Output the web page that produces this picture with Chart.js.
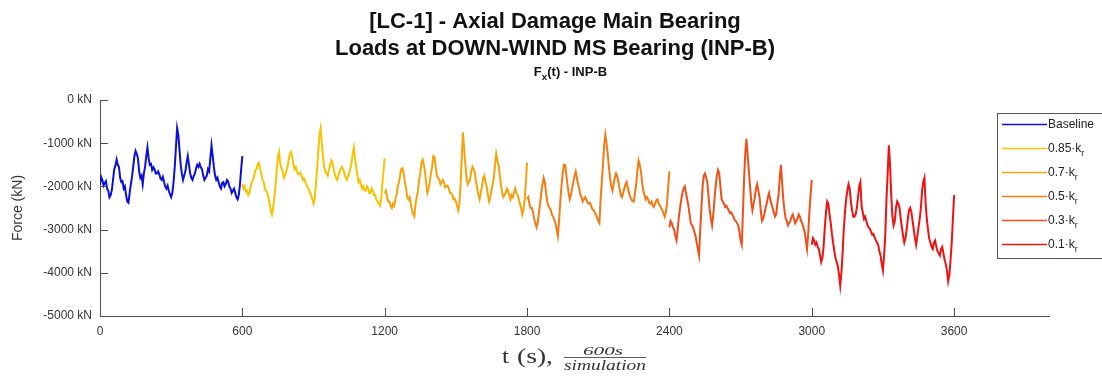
<!DOCTYPE html>
<html>
<head>
<meta charset="utf-8">
<script src="https://cdn.jsdelivr.net/npm/chart.js@4/dist/chart.umd.min.js"></script>
<style>
  html, body { margin: 0; padding: 0; background: #fff; }
  #wrap { width: 1102px; height: 378px; }
</style>
</head>
<body>
<div id="wrap"><canvas id="canva" width="1102" height="378"></canvas></div>
<script>
// six 600 s simulations, one after the other, sampled every 5 s (kN)
const seriesNames = ["Baseline", "0.85", "0.7", "0.5", "0.3", "0.1"];
const segmentLength = 600;
const sampleStep = 5;

const baseline = [
  -1960, -1780, -1850, -1980, -1920, -1880, -2050, -2100, -2250, -2200,
  -2080, -1850, -1600, -1520, -1380, -1500, -1550, -1800, -1900, -1880,
  -2050, -2000, -2200, -2350, -2380, -2150, -1950, -1780, -1550, -1300,
  -1180, -1250, -1350, -1650, -1800, -1750, -1950, -1700, -1550, -1300,
  -1100, -1350, -1500, -1480, -1620, -1560, -1600, -1700, -1700, -1650,
  -1720, -1820, -1850, -1780, -1900, -2000, -2050, -1980, -2100, -2180,
  -2250, -2150, -1900, -1550, -1100, -650, -800, -1150, -1500, -1700,
  -1850, -1750, -1650, -1450, -1300, -1500, -1700, -1800, -1850, -1760,
  -1700, -1580, -1500, -1550, -1480, -1560, -1600, -1750, -1850, -1800,
  -1750, -1600, -1650, -1350, -1050, -1300, -1550, -1750, -1850, -1800,
  -1900, -2000, -2050, -1920, -1900, -2000, -1950, -1850, -1880, -2000,
  -2050, -2150, -2100, -2050, -2150, -2250, -2300, -2200, -1950, -1600,
  -1300
];
const kr085 = [
  -1950, -2050, -2000, -2120, -2100, -2200, -2150, -2000, -1900, -1850,
  -1750, -1620, -1600, -1480, -1460, -1600, -1700, -1850, -1900, -2050,
  -2100, -2150, -2250, -2400, -2550, -2650, -2500, -2250, -1980, -1600,
  -1300, -1200, -1500, -1580, -1650, -1800, -1750, -1650, -1550, -1400,
  -1250, -1200, -1300, -1500, -1600, -1550, -1650, -1720, -1700, -1680,
  -1750, -1850, -1820, -1880, -1950, -2030, -2050, -2150, -2200, -2300,
  -2400, -2300, -1950, -1600, -1200, -800, -650, -1000, -1300, -1550,
  -1650, -1700, -1750, -1600, -1500, -1400, -1450, -1600, -1720, -1800,
  -1850, -1750, -1650, -1580, -1550, -1620, -1680, -1800, -1850, -1780,
  -1700, -1600, -1450, -1250, -1100, -1350, -1550, -1750, -1900, -1850,
  -1950, -2050, -2000, -2080, -2100, -2000, -2050, -2150, -2150, -2050,
  -2100, -2200, -2200, -2300, -2350, -2400, -2450, -2300, -1950, -1650,
  -1350
];
const kr07 = [
  -2150, -2100, -2250, -2350, -2350, -2450, -2500, -2400, -2450, -2300,
  -2200, -2000, -1900, -1750, -1600, -1580, -1700, -1900, -2050, -2250,
  -2300, -2250, -2400, -2550, -2650, -2700, -2400, -2250, -2100, -1850,
  -1700, -1450, -1380, -1500, -1650, -1950, -2150, -2050, -1900, -1700,
  -1550, -1300, -1320, -1550, -1750, -1800, -1850, -1950, -1900, -1850,
  -1920, -2020, -2000, -1980, -2050, -2150, -2150, -2200, -2300, -2280,
  -2350, -2450, -2550, -2400, -1950, -1300, -750, -1150, -1500, -1800,
  -1950, -1900, -1850, -1650, -1550, -1600, -1700, -1900, -2050, -2200,
  -2300, -2150, -2000, -1800, -1750, -1900, -2000, -2200, -2350, -2250,
  -2100, -1950, -1800, -1500, -1250, -1400, -1500, -1750, -1950, -2150,
  -2250, -2200, -2150, -2050, -2100, -2200, -2300, -2200, -2250, -2150,
  -2050, -2150, -2200, -2300, -2400, -2500, -2650, -2550, -2300, -1900,
  -1450
];
const kr05 = [
  -2300, -2250, -2400, -2500, -2500, -2600, -2750, -2850, -2950, -2850,
  -2600, -2400, -2150, -1950, -1800, -1900, -2150, -2350, -2450, -2500,
  -2550, -2650, -2700, -2780, -2850, -3000, -3150, -2800, -2350, -2000,
  -1700, -1500, -1500, -1700, -1950, -2150, -2300, -2200, -2050, -1900,
  -1750, -1650, -1800, -1950, -2050, -2200, -2250, -2350, -2300, -2250,
  -2300, -2380, -2400, -2380, -2450, -2520, -2550, -2600, -2650, -2720,
  -2800, -2850, -2300, -1900, -1500, -1050, -800, -1000, -1250, -1550,
  -1800, -2000, -2100, -1950, -1800, -1700, -1750, -1900, -2050, -2200,
  -2250, -2150, -2050, -1950, -1900, -2050, -2150, -2250, -2300, -2350,
  -2350, -2150, -1950, -1650, -1400, -1500, -1650, -1900, -2100, -2200,
  -2300, -2250, -2300, -2380, -2400, -2350, -2450, -2480, -2400, -2320,
  -2300, -2400, -2450, -2500, -2550, -2620, -2700, -2600, -2400, -2000,
  -1650
];
const kr03 = [
  -2950, -2800, -2850, -2950, -3000, -3150, -3250, -3000, -2700, -2500,
  -2300, -2150, -2050, -2000, -2150, -2300, -2450, -2650, -2850, -2900,
  -2950, -3050, -3150, -3300, -3450, -3600, -3000, -2500, -2000, -1750,
  -1700, -1800, -1900, -2250, -2550, -2750, -2900, -2650, -2300, -2000,
  -1750, -1620, -1700, -2000, -2300, -2350, -2400, -2480, -2450, -2500,
  -2550, -2620, -2600, -2650, -2700, -2780, -2800, -2850, -2900, -3050,
  -3250, -3350, -2600, -1800, -1200, -900, -1300, -1650, -2000, -2350,
  -2550, -2400, -2250, -2050, -1950, -2100, -2250, -2550, -2800, -2750,
  -2650, -2500, -2400, -2250, -2150, -2300, -2400, -2500, -2600, -2700,
  -2650, -2400, -2200, -1800, -1500, -1900, -2300, -2550, -2750, -2800,
  -2900, -2850, -2800, -2700, -2650, -2750, -2850, -2800, -2750, -2650,
  -2700, -2800, -2850, -2950, -3050, -3250, -3450, -3100, -2600, -2200,
  -1850
];
const kr01 = [
  -3350, -3200, -3250, -3350, -3300, -3400, -3450, -3600, -3750, -3650,
  -3400, -2950, -2600, -2350, -2400, -2650, -2850, -3100, -3300, -3500,
  -3650, -3750, -3850, -4050, -4300, -4000, -3550, -3000, -2600, -2300,
  -2100, -1950, -2050, -2350, -2550, -2700, -2700, -2650, -2500, -2250,
  -2000, -1900, -2450, -2600, -2750, -2700, -2800, -2900, -2950, -2980,
  -3050, -3120, -3100, -3180, -3250, -3300, -3350, -3500, -3600, -3800,
  -3950, -3600, -3100, -2300, -1700, -1050, -1500, -2200, -2700, -2900,
  -2800, -2500, -2350, -2400, -2500, -2750, -2950, -3150, -3300, -3200,
  -3000, -2750, -2550, -2500, -2600, -2800, -3000, -3200, -3350, -3150,
  -2950, -2750, -2500, -2100, -1900, -1800, -2400, -2750, -3000, -3200,
  -3300, -3400, -3450, -3300, -3250, -3400, -3500, -3550, -3600, -3450,
  -3400, -3550, -3700, -3800, -3950, -4200, -4050, -3700, -3300, -2750,
  -2200
];
const xTicks = [0, 600, 1200, 1800, 2400, 3000, 3600];
const yTicks = [0, -1000, -2000, -3000, -4000, -5000];

const seriesValues = [baseline, kr085, kr07, kr05, kr03, kr01];
const seriesColors = ["#0a0fdc", "#f8c300", "#f6a20a", "#f47b14", "#f0501a", "#ee1212"];

const datasets = seriesValues.map((vals, s) => ({
  label: seriesNames[s],
  data: vals.map((v, i) => ({ x: s * segmentLength + i * sampleStep, y: v })),
  borderColor: seriesColors[s],
  borderWidth: 2,
  pointRadius: 0,
  tension: 0,
  fill: false,
}));

const SANS = '"Liberation Sans", Arial, sans-serif';
const SERIF = '"Liberation Serif", "Times New Roman", serif';

// text with subscript pieces, drawn left-aligned from x
function subText(ctx, x, y, parts, size, weight) {
  let cx = x;
  parts.forEach(([txt, sub]) => {
    ctx.font = `${weight} ${sub ? size * 0.75 : size}px ${SANS}`;
    ctx.fillText(txt, cx, sub ? y + size * 0.3 : y);
    cx += ctx.measureText(txt).width;
  });
  return cx - x;
}
function subWidth(ctx, parts, size, weight) {
  let w = 0;
  parts.forEach(([txt, sub]) => {
    ctx.font = `${weight} ${sub ? size * 0.75 : size}px ${SANS}`;
    w += ctx.measureText(txt).width;
  });
  return w;
}
// latex-ish wide text: stretched to a given width, from left x
function wideText(ctx, txt, x, y, font, width) {
  ctx.save();
  ctx.font = font;
  ctx.textAlign = "left";
  const w = ctx.measureText(txt).width;
  ctx.translate(x, y);
  ctx.scale(width / w, 1);
  ctx.fillText(txt, 0, 0);
  ctx.restore();
}

const decor = {
  id: "decor",
  afterDraw(chart) {
    const ctx = chart.ctx;
    const area = chart.chartArea;
    const xs = chart.scales.x, ys = chart.scales.y;
    const midX = (xs.getPixelForValue(0) + xs.getPixelForValue(4000)) / 2;
    ctx.save();
    ctx.fillStyle = "#111";
    ctx.textAlign = "center";
    ctx.textBaseline = "alphabetic";
    ctx.font = `bold 22px ${SANS}`;
    ctx.fillText("[LC-1] - Axial Damage Main Bearing", 555, 28);
    ctx.fillText("Loads at DOWN-WIND MS Bearing (INP-B)", 555, 55);

    // subtitle F_x(t) - INP-B
    ctx.textAlign = "left";
    const sp = [["F", false], ["x", true], ["(t) - INP-B", false]];
    const sw = subWidth(ctx, sp, 13, "bold");
    subText(ctx, midX - 4 - sw / 2, 76, sp, 13, "bold");

    // inward tick marks
    ctx.strokeStyle = "#4d4d4d";
    ctx.lineWidth = 1;
    ctx.beginPath();
    xTicks.forEach(v => {
      const px = Math.round(xs.getPixelForValue(v)) + 0.5;
      ctx.moveTo(px, area.bottom);
      ctx.lineTo(px, area.bottom - 8);
    });
    yTicks.forEach(v => {
      const py = Math.round(ys.getPixelForValue(v)) + 0.5;
      ctx.moveTo(area.left, py);
      ctx.lineTo(area.left + 8, py);
    });
    ctx.stroke();

    // y axis title
    ctx.save();
    ctx.translate(22, (area.top + area.bottom) / 2);
    ctx.rotate(-Math.PI / 2);
    ctx.textAlign = "center";
    ctx.fillStyle = "#333";
    ctx.font = `14px ${SANS}`;
    ctx.fillText("Force (kN)", 0, 0);
    ctx.restore();

    // x axis title: t (s), 600s / simulation
    ctx.fillStyle = "#333";
    wideText(ctx, "t", 502, 363, `20px ${SERIF}`, 7);
    wideText(ctx, "(s),", 517, 363, `20px ${SERIF}`, 36);
    wideText(ctx, "600s", 583, 355, `italic 12px ${SERIF}`, 40);
    wideText(ctx, "simulation", 564, 370, `italic 14px ${SERIF}`, 82);
    ctx.beginPath();
    ctx.moveTo(564, 357.5);
    ctx.lineTo(646, 357.5);
    ctx.strokeStyle = "#333";
    ctx.lineWidth = 0.8;
    ctx.stroke();

    // legend box (runs off the right edge, as in the source figure)
    const lx = 997, ly = 113, lh = 145;
    ctx.fillStyle = "#fff";
    ctx.fillRect(lx, ly, 120, lh);
    ctx.strokeStyle = "#555";
    ctx.lineWidth = 1;
    ctx.strokeRect(lx + 0.5, ly + 0.5, 120, lh);
    seriesNames.forEach((name, i) => {
      const ry = 124 + i * 24;
      ctx.strokeStyle = seriesColors[i];
      ctx.lineWidth = 1.5;
      ctx.beginPath();
      ctx.moveTo(lx + 5, ry + 0.5);
      ctx.lineTo(lx + 50, ry + 0.5);
      ctx.stroke();
      ctx.fillStyle = "#222";
      const parts = i === 0 ? [[name, false]] : [[name + "\u00b7k", false], ["r", true]];
      subText(ctx, lx + 51, ry + 4, parts, 12, "normal");
    });
    ctx.restore();
  }
};

new Chart(document.getElementById("canva").getContext("2d"), {
  type: "line",
  data: { datasets },
  plugins: [decor],
  options: {
    responsive: false,
    animation: false,
    devicePixelRatio: 1,
    layout: { padding: { top: 100, right: 53, left: 0, bottom: 0 } },
    plugins: { legend: { display: false }, tooltip: { enabled: false }, title: { display: false } },
    scales: {
      x: {
        type: "linear",
        min: 0,
        max: 4000,
        afterBuildTicks: s => { s.ticks = xTicks.map(v => ({ value: v })); },
        afterFit: s => { s.height = 62; },
        grid: { display: false, drawTicks: false },
        border: { display: true, color: "#4d4d4d", width: 1 },
        ticks: {
          autoSkip: false, maxRotation: 0, padding: 8, color: "#333",
          font: { family: "Liberation Sans Narrow, Liberation Sans", size: 12 },
          callback: v => String(v),
        },
      },
      y: {
        type: "linear",
        min: -5000,
        max: 0,
        afterBuildTicks: s => { s.ticks = yTicks.map(v => ({ value: v })); },
        afterFit: s => { s.width = 100; },
        grid: { display: false, drawTicks: false },
        border: { display: true, color: "#4d4d4d", width: 1 },
        ticks: {
          padding: 8, color: "#333",
          font: { family: "Liberation Sans", size: 12 },
          callback: v => v + " kN",
        },
      },
    },
  },
});
</script>
</body>
</html>
